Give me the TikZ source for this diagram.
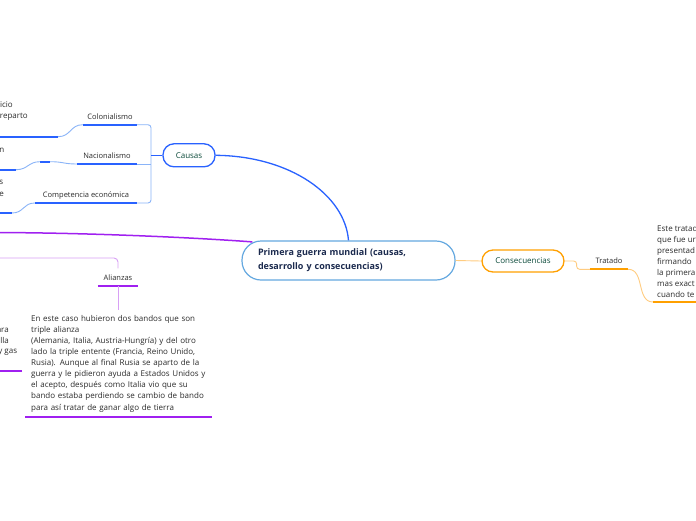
\documentclass[tikz,border=0pt]{standalone}
\usepackage{fontspec}
\setmainfont{Open Sans}
\usetikzlibrary{calc}
\definecolor{cblue}{HTML}{2962FF}
\definecolor{lblue}{HTML}{8AB4F8}
\definecolor{mborder}{HTML}{64A8E0}
\definecolor{navy}{HTML}{1B2A4E}
\definecolor{dgreen}{HTML}{0B4A3A}
\definecolor{purp}{HTML}{A020F0}
\definecolor{lpurp}{HTML}{D8A0F5}
\definecolor{orng}{HTML}{FFA000}
\definecolor{lorng}{HTML}{FFCC80}
\definecolor{tgray}{HTML}{2B2B2B}
\begin{document}
\begin{tikzpicture}[x=1pt,y=-1pt,
  small/.style={font=\fontsize{7.5}{11.1}\selectfont, text=tgray},
  para/.style={font=\fontsize{8}{11.1}\selectfont, text=tgray},
  branch/.style={small, anchor=south, inner xsep=0pt, inner ysep=3.5pt, text height=5.5pt, text depth=1.7pt},
  frag/.style={para, anchor=base east, inner sep=0pt},
  mainbox/.style={draw=mborder, line width=1.2pt, rounded corners=19pt, fill=white,
    minimum width=213pt, minimum height=39pt, align=left, text width=181pt, inner xsep=16pt,
    font=\fontsize{9}{14}\selectfont\bfseries, text=navy},
  topic/.style={line width=1.3pt, rounded corners=11pt, fill=white, font=\fontsize{8}{10}\selectfont, text=dgreen, inner sep=0pt},
  bthick/.style={cblue, line width=1.8pt},
  bthin/.style={lblue, line width=0.9pt},
  pthick/.style={purp, line width=1.8pt},
  pthin/.style={lpurp, line width=0.9pt},
  othick/.style={orng, line width=1.8pt},
  othin/.style={lorng, line width=0.9pt},
]
\useasboundingbox (0,0) rectangle (696,520);
\fill[white] (0,0) rectangle (696,520);
\clip (0,0) rectangle (696,520);

% central
\node[mainbox] (main) at (348.5,260.5) {Primera guerra mundial (causas,\\desarrollo y consecuencias)};

% Causas
\node[topic, draw=cblue, minimum width=52pt, minimum height=23pt] (causas) at (189,155.3) {Causas};
\draw[cblue, line width=1.3pt] (causas.east) .. controls (290,156) and (345,195) .. (main.north);

\node[branch, minimum width=54pt] (col) at (110,124.7) {Colonialismo};
\node[branch, minimum width=60pt] (nac) at (107,164) {Nacionalismo};
\node[branch, minimum width=102pt] (comp) at (86,203) {Competencia económica};
\draw[bthick] (col.south west) -- (col.south east);
\draw[bthick] (nac.south west) -- (nac.south east);
\draw[bthick] (comp.south west) -- (comp.south east);

\coordinate (bt) at (151,124.7);
\coordinate (bb) at (151,203);
\draw[bthin, rounded corners=3pt] (col.south east) -- (bt) -- (bb) -- (comp.south east);
\draw[bthin] (nac.south east) -- (nac.south east -| bt);
\draw[cblue, line width=1pt] (causas.west) -- (causas.west -| bt);

% left fragments of Causas
\coordinate (c1) at (58,136.7);
\coordinate (c1l) at (-2,136.7);
\draw[bthin] (col.south west) .. controls (70,124.7) and (71,136.7) .. (c1);
\draw[bthick] (c1) -- (c1l);
\coordinate (n1) at (50,161.7);
\coordinate (n0) at (40,161.7);
\coordinate (n2) at (16,169.7);
\coordinate (n3) at (-2,169.7);
\draw[bthin] (nac.south west) .. controls (63,164) and (64,161.7) .. (n1);
\draw[bthick] (n1) -- (n0);
\draw[bthin] (n0) .. controls (28,161.7) and (28,169.7) .. (n2);
\draw[bthick] (n2) -- (n3);
\coordinate (m1) at (12,213);
\coordinate (m1l) at (-2,213);
\draw[bthin] (comp.south west) .. controls (23,203) and (24,213) .. (m1);
\draw[bthick] (m1) -- (m1l);

\node[frag] (f1) at (13,107.2) {icio};
\node[frag] (f2) at (28,118.2) {reparto};
\node[frag] (f3) at (4.5,152.2) {n};
\node[frag] (f4) at (3.5,184.7) {s};
\node[frag] (f5) at (4,196.2) {e};

% purple branch (desarrollo)
\coordinate (pl) at (-2,232.5);
\draw[purp, line width=1.5pt] ($(main.north west)+(11,1.5)$) .. controls (200,238) and (100,233) .. (pl);

\node[branch, minimum width=40pt] (ali) at (118,286) {Alianzas};
\draw[pthick] (ali.south west) -- (ali.south east);
\coordinate (pa) at (-2,258);
\draw[pthin, rounded corners=4pt, shorten >=3pt] (pa) -| (ali.north);

\node[para, align=left, text width=200pt, inner xsep=0pt, inner ysep=5pt, anchor=north west] (alitext) at (31,310)
{En este caso hubieron dos bandos que son\\
triple alianza\\
(Alemania, Italia, Austria-Hungría) y del otro\\
lado la triple entente (Francia, Reino Unido,\\
Rusia). Aunque al final Rusia se aparto de la\\
guerra y le pidieron ayuda a Estados Unidos y\\
el acepto, después como Italia vio que su\\
bando estaba perdiendo se cambio de bando\\
para así tratar de ganar algo de tierra};
\draw[pthin] (ali.south) -- (ali.south |- alitext.north);
\draw[pthick] ($(alitext.south west)+(-6,0)$) -- ($(alitext.south west)+(181,0)$);

\node[frag] (g1) at (9,332.7) {ara};
\node[frag] (g2) at (9,343.2) {alla};
\node[frag] (g3) at (17.3,353.7) {y gas};
\coordinate (q1) at (22,371);
\coordinate (q0) at (-2,371);
\draw[pthick] (q1) -- (q0);

% Consecuencias
\node[topic, draw=orng, minimum width=82pt, minimum height=22pt] (cons) at (523,261) {Consecuencias};
\draw[othin] (main.east) -- (cons.west);
\node[branch, minimum width=38pt] (trat) at (609,269.3) {Tratado};
\draw[othick] (trat.south west) -- (trat.south east);
\draw[othin, rounded corners=3pt] (cons.east) -- ++(12,0) |- (trat.south west);

\node[para, align=left, anchor=north west, inner sep=0pt] (rtext) at (657,225)
{Este tratad\\que fue ur\\presentad\\firmando\\la primera\\mas exact\\cuando te};
\coordinate (r1) at (653,302);
\coordinate (r2) at (700,302);
\draw[othin] (trat.south east) .. controls (645,269.3) and (636,302) .. (r1);
\draw[othick] (r1) -- (r2);
\end{tikzpicture}
\end{document}
